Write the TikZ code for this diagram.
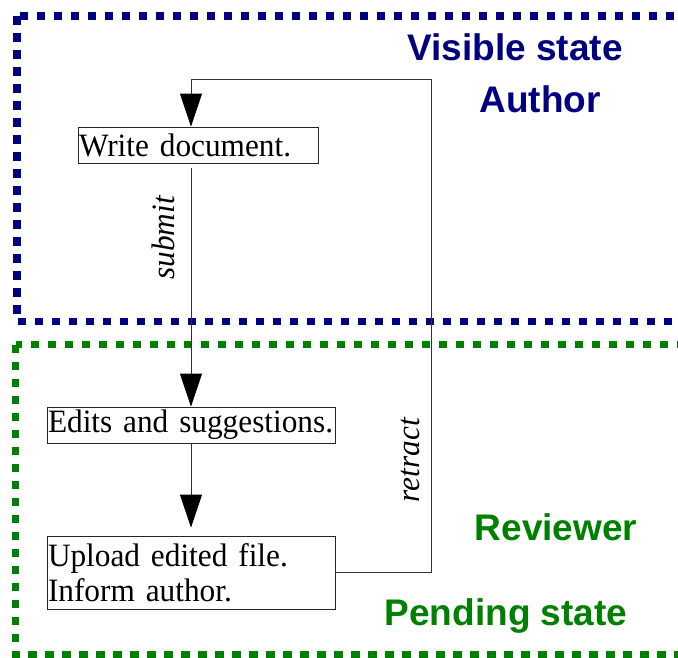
\documentclass[tikz,border=0pt]{standalone}
\usepackage{fontspec}
\setmainfont[FakeStretch=0.96]{Liberation Serif}
\newfontfamily\labelfont{Liberation Sans}
\usetikzlibrary{arrows.meta}
\definecolor{navyblue}{HTML}{000080}
\definecolor{darkgreen}{HTML}{008000}
\begin{document}
\begin{tikzpicture}[x=1pt,y=-1pt,
  stepbox/.style={draw=black!85, line width=0.9pt, inner xsep=1pt, inner ysep=0pt,
    align=left, font=\fontsize{32.6}{35}\selectfont, anchor=center},
  flow/.style={draw=black!80, line width=0.9pt},
  tipped/.style={-{Triangle[length=33pt,width=22pt,color=black]}},
  region/.style={line width=7.5pt, dash pattern=on 8.5pt off 8.5pt},
  statelabel/.style={font=\labelfont\bfseries\fontsize{37}{40}\selectfont, anchor=base},
  edgelabel/.style={font=\itshape\fontsize{32.6}{35}\selectfont, rotate=90}]
  \path[use as bounding box] (0,0) rectangle (678,657);
  \clip (0,0) rectangle (678,657);
  % regions
  \draw[region, navyblue] (17,16) rectangle (720,321.5);
  \draw[region, darkgreen] (15.5,344.7) rectangle (720,655);
  % state labels
  \node[statelabel, text=navyblue] (visible) at (515,60) {Visible state};
  \node[statelabel, text=navyblue] (author) at (540,112) {Author};
  \node[statelabel, text=darkgreen] (reviewer) at (556,540) {Reviewer};
  \node[statelabel, text=darkgreen] (pending) at (506,625) {Pending state};
  % steps
  \node[stepbox, text width=238pt, minimum height=36pt] (write) at (198,145) {\mbox{Write document.}};
  \node[stepbox, text width=286pt, minimum height=36pt] (edits) at (191,425) {\mbox{Edits and suggestions.}};
  \node[stepbox, text width=286pt, minimum height=73pt] (upload) at (191,572.5) {\mbox{Upload edited file.}\\\mbox{Inform author.}};
  % connectors
  \draw[flow, tipped, shorten <=5pt] (write.south -| edits.north) -- (edits.north);
  \draw[flow, tipped, shorten >=8pt] (edits.south) -- (upload.north);
  \coordinate (looptop) at (431,79);
  \draw[flow, tipped] (upload.east) -| (looptop) -| (write.north -| edits.north);
  % connector labels
  \node[edgelabel] (submitlbl) at (163,238) {submit};
  \node[edgelabel] (retractlbl) at (410,460) {retract};
\end{tikzpicture}
\end{document}
